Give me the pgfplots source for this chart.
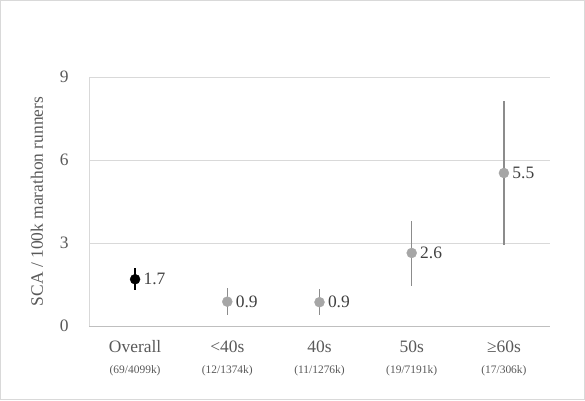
\documentclass[border=0pt]{standalone}
\usepackage{pgfplots}
\pgfplotsset{compat=1.18}
\usepackage{fontspec}
\setmainfont{Liberation Serif}
\definecolor{tickgray}{HTML}{595959}
\definecolor{gridgray}{HTML}{D9D9D9}
\definecolor{axisgray}{HTML}{BFBFBF}
\definecolor{dotgray}{HTML}{A6A6A6}
\definecolor{bargray}{HTML}{8C8C8C}
\begin{document}
\begin{tikzpicture}[x=1bp,y=1bp]
\useasboundingbox (0,0) rectangle (585,400);
\draw[gridgray,line width=1bp] (0.5,0.5) rectangle (584.5,399.5);
\begin{axis}[
  at={(89bp,74bp)}, anchor=south west,
  width=461bp, height=249bp, scale only axis,
  xmin=-0.5, xmax=4.5, ymin=0, ymax=9,
  ytick={0,3,6,9},
  xtick={0,1,2,3,4},
  xticklabels={
    {Overall\\[3bp]{\fontsize{11.5}{12}\selectfont (69/4099k)}},
    {<40s\\[3bp]{\fontsize{11.5}{12}\selectfont (12/1374k)}},
    {40s\\[3bp]{\fontsize{11.5}{12}\selectfont (11/1276k)}},
    {50s\\[3bp]{\fontsize{11.5}{12}\selectfont (19/7191k)}},
    {≥60s\\[3bp]{\fontsize{11.5}{12}\selectfont (17/306k)}}},
  xticklabel style={align=center, font=\fontsize{17.5}{18}\selectfont, text=tickgray, yshift=-11bp},
  yticklabel style={font=\fontsize{17.5}{18}\selectfont, text=tickgray, xshift=-17bp},
  /pgf/number format/assume math mode=true,
  major tick length=0pt,
  ymajorgrids, grid style={gridgray, line width=0.8bp},
  axis x line*=bottom, axis y line*=left,
  axis line style={axisgray, line width=0.8bp},
  x axis line style={-}, y axis line style={-, draw=gridgray},
  ylabel={SCA / 100k marathon runners},
  ylabel style={font=\fontsize{17.5}{18}\selectfont, text=tickgray, at={(axis description cs:-0.113,0.5)}, anchor=center},
  clip=false,
  nodes near coords, point meta=explicit symbolic,
  every node near coord/.append style={anchor=west, xshift=5bp, font=\fontsize{17.5}{18}\selectfont, text=black!75},
]
\addplot[only marks, mark=*, mark size=5bp, color=black,
  error bars/.cd, y dir=both, y explicit, error mark=none,
  error bar style={black, line width=1.3bp}]
  coordinates {(0,1.69) += (0,0.40) -= (0,0.39) [1.7]};
\addplot[only marks, mark=*, mark size=5bp, color=dotgray,
  error bars/.cd, y dir=both, y explicit, error mark=none,
  error bar style={bargray, line width=1.3bp}]
  coordinates {
    (1,0.88) += (0,0.49) -= (0,0.48) [0.9]
    (2,0.86) += (0,0.49) -= (0,0.46) [0.9]
    (3,2.64) += (0,1.16) -= (0,1.18) [2.6]
    (4,5.53) += (0,2.61) -= (0,2.60) [5.5]
  };
\end{axis}
\end{tikzpicture}
\end{document}
